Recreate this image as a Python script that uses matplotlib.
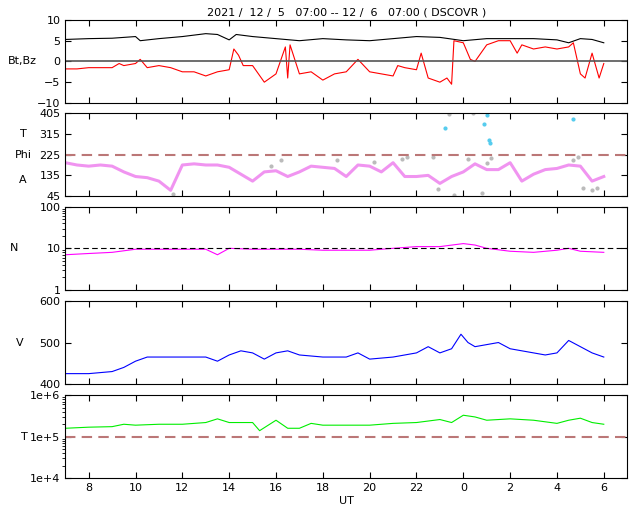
import matplotlib
matplotlib.use("Agg")
import matplotlib.pyplot as plt
import numpy as np

t_bt = [7, 8, 9, 9.5, 10, 10.2, 11, 12, 13, 13.5, 14, 14.3, 15, 16, 17, 18, 19, 20, 21, 22, 23, 24, 25, 26, 27, 28, 28.5, 29, 29.5, 30]
bt = [5.3, 5.5, 5.6, 5.8, 6.0, 5.0, 5.5, 6.0, 6.7, 6.5, 5.2, 6.5, 6.0, 5.5, 5.0, 5.5, 5.2, 5.0, 5.5, 6.0, 5.8, 5.0, 5.5, 5.5, 5.5, 5.2, 4.5, 5.5, 5.3, 4.5]

t_bz = [7, 7.5, 8, 8.5, 9, 9.3, 9.5, 10, 10.2, 10.5, 11, 11.5, 12, 12.5, 13, 13.5, 14, 14.2, 14.4, 14.6, 15, 15.5, 16, 16.4, 16.5, 16.6, 17, 17.5, 18, 18.5, 19, 19.5, 20, 20.5, 21, 21.2, 21.5, 22, 22.2, 22.5, 23, 23.3, 23.5, 23.6, 24, 24.3, 24.5, 25, 25.5, 26, 26.3, 26.5, 27, 27.5, 28, 28.5, 28.7, 29, 29.2, 29.5, 29.8, 30]
bz = [-1.8, -1.8, -1.5, -1.5, -1.5, -0.5, -1.0, -0.5, 0.5, -1.5, -1.0, -1.5, -2.5, -2.5, -3.5, -2.5, -2.0, 3.0, 1.5, -1.0, -1.0, -5.0, -3.0, 3.5, -4.0, 4.0, -3.0, -2.5, -4.5, -3.0, -2.5, 0.5, -2.5, -3.0, -3.5, -1.0, -1.5, -2.0, 2.0, -4.0, -5.0, -4.0, -5.5, 5.0, 4.5, 0.5, 0.0, 4.0, 5.0, 5.0, 2.0, 4.0, 3.0, 3.5, 3.0, 3.5, 4.5, -3.0, -4.0, 2.0, -4.0, -0.5]

t_phi = [7, 7.5, 8, 8.5, 9, 9.5, 10, 10.5, 11, 11.5, 12, 12.5, 13, 13.5, 14, 14.5, 15, 15.5, 16, 16.5, 17, 17.5, 18, 18.5, 19, 19.5, 20, 20.5, 21, 21.5, 22, 22.5, 23, 23.5, 24, 24.5, 25, 25.5, 26, 26.5, 27, 27.5, 28, 28.5, 29, 29.5, 30]
phi = [190, 180, 175, 180, 175, 150, 130, 125, 110, 70, 180, 185, 180, 180, 170, 140, 110, 150, 155, 130, 150, 175, 170, 165, 130, 180, 175, 150, 190, 130, 130, 135, 100, 130, 150, 185, 160, 160, 190, 110, 140, 160, 165, 180, 175, 110, 130]
t_gray = [11.6, 15.8, 16.2, 18.6, 20.2, 21.4, 21.6, 22.7, 22.9, 23.4, 23.6, 24.2, 24.4, 24.8, 25.0, 25.2, 28.7, 28.9, 29.1, 29.5, 29.7]
gray = [55, 175, 200, 200, 195, 205, 215, 215, 75, 400, 50, 205, 405, 60, 190, 210, 200, 215, 80, 70, 80]
t_cyan = [23.2, 24.9, 25.0, 25.1, 25.15, 28.7]
cyan = [340, 360, 395, 290, 275, 380]

t_n = [7, 8, 9, 10, 11, 12, 13, 13.5, 14, 15, 16, 17, 18, 19, 20, 21, 22, 23, 24, 24.5, 25, 26, 27, 28, 28.5, 29, 30]
n = [7, 7.5, 8, 9.5, 9.5, 9.5, 9.5, 7, 10, 9.5, 9.5, 9.5, 9.0, 9.0, 9.0, 10, 11, 11, 13, 12, 10, 8.5, 8, 9, 10, 8.5, 8]

t_v = [7, 8, 9, 9.5, 10, 10.5, 11, 12, 13, 13.5, 14, 14.5, 15, 15.5, 16, 16.5, 17, 18, 19, 19.5, 20, 21, 21.5, 22, 22.5, 23, 23.5, 23.9, 24.2, 24.5, 25, 25.5, 26, 27, 27.5, 28, 28.5, 29, 29.5, 30]
v = [425, 425, 430, 440, 455, 465, 465, 465, 465, 455, 470, 480, 475, 460, 475, 480, 470, 465, 465, 475, 460, 465, 470, 475, 490, 475, 485, 520, 500, 490, 495, 500, 485, 475, 470, 475, 505, 490, 475, 465]

t_t = [7, 8, 9, 9.5, 10, 11, 12, 13, 13.5, 14, 15, 15.3, 16, 16.5, 17, 17.5, 18, 19, 20, 21, 22, 23, 23.5, 24, 24.5, 25, 26, 27, 28, 28.5, 29, 29.5, 30]
temp = [1.6e5, 1.7e5, 1.75e5, 2e5, 1.9e5, 2e5, 2e5, 2.2e5, 2.7e5, 2.2e5, 2.2e5, 1.4e5, 2.5e5, 1.6e5, 1.6e5, 2.1e5, 1.9e5, 1.9e5, 1.9e5, 2.1e5, 2.2e5, 2.6e5, 2.2e5, 3.3e5, 3e5, 2.5e5, 2.7e5, 2.5e5, 2.1e5, 2.5e5, 2.8e5, 2.2e5, 2e5]

xticks = [8, 10, 12, 14, 16, 18, 20, 22, 24, 26, 28, 30]
xlabels = ["8", "10", "12", "14", "16", "18", "20", "22", "0", "2", "4", "6"]

plt.rcParams['font.size'] = 8
fig = plt.figure(figsize=(6.4, 5.12), dpi=100)
L, W, H = 0.102, 0.878, 0.162
bottoms = [0.799, 0.617, 0.434, 0.25, 0.066]
axes = [fig.add_axes([L, b, W, H]) for b in bottoms]
dash = '#bb7777'
for ax in axes:
    ax.set_xlim(7, 31)
    ax.set_xticks(xticks)
    ax.tick_params(direction='in', top=True, right=True, length=4)
    ax.set_xticklabels([])

a = axes[0]
a.plot(t_bt, bt, color='black', lw=0.8)
a.plot(t_bz, bz, color='red', lw=0.8)
a.axhline(0, color='#555555', lw=1.2)
a.set_ylim(-10, 10)
a.set_yticks([-10, -5, 0, 5, 10])
a.set_ylabel('Bt,Bz', rotation=0, labelpad=0, ha='right', va='center')
a.set_title('2021 /  12 /  5   07:00 -- 12 /  6   07:00 ( DSCOVR )', fontsize=8, pad=3)

a = axes[1]
a.plot(t_phi, phi, color='violet', lw=2.2, alpha=0.85)
a.scatter(t_gray, gray, s=4, color='#bbbbbb')
a.scatter(t_cyan, cyan, s=4, color='#55ccee')
a.axhline(225, color=dash, lw=1.5, ls=(0, (5, 3)))
a.set_ylim(45, 405)
a.set_yticks([45, 135, 225, 315, 405])
a.text(-0.075, 0.75, 'T', transform=a.transAxes, ha='center', va='center')
a.text(-0.075, 0.5, 'Phi', transform=a.transAxes, ha='center', va='center')
a.text(-0.075, 0.2, 'A', transform=a.transAxes, ha='center', va='center')

a = axes[2]
a.plot(t_n, n, color='magenta', lw=0.8)
a.axhline(10, color='black', lw=0.8, ls=(0, (5, 3)))
a.set_yscale('log')
a.set_ylim(1, 100)
a.set_yticks([1, 10, 100])
a.set_yticklabels(['1', '10', '100'])
a.set_ylabel('N', rotation=0, labelpad=18, va='center')

a = axes[3]
a.plot(t_v, v, color='blue', lw=0.8)
a.set_ylim(400, 600)
a.set_yticks([400, 500, 600])
a.set_ylabel('V', rotation=0, labelpad=14, va='center')

a = axes[4]
a.plot(t_t, temp, color='#00ee00', lw=0.8)
a.axhline(1e5, color=dash, lw=1.5, ls=(0, (5, 3)))
a.set_yscale('log')
a.set_ylim(1e4, 1e6)
a.set_yticks([1e4, 1e5, 1e6])
a.set_yticklabels(['1e+4', '1e+5', '1e+6'])
a.set_ylabel('T', rotation=0, labelpad=4, va='center')
a.set_xticklabels(xlabels)
a.set_xlabel('UT', labelpad=2)

fig.savefig('out.png', dpi=100)
